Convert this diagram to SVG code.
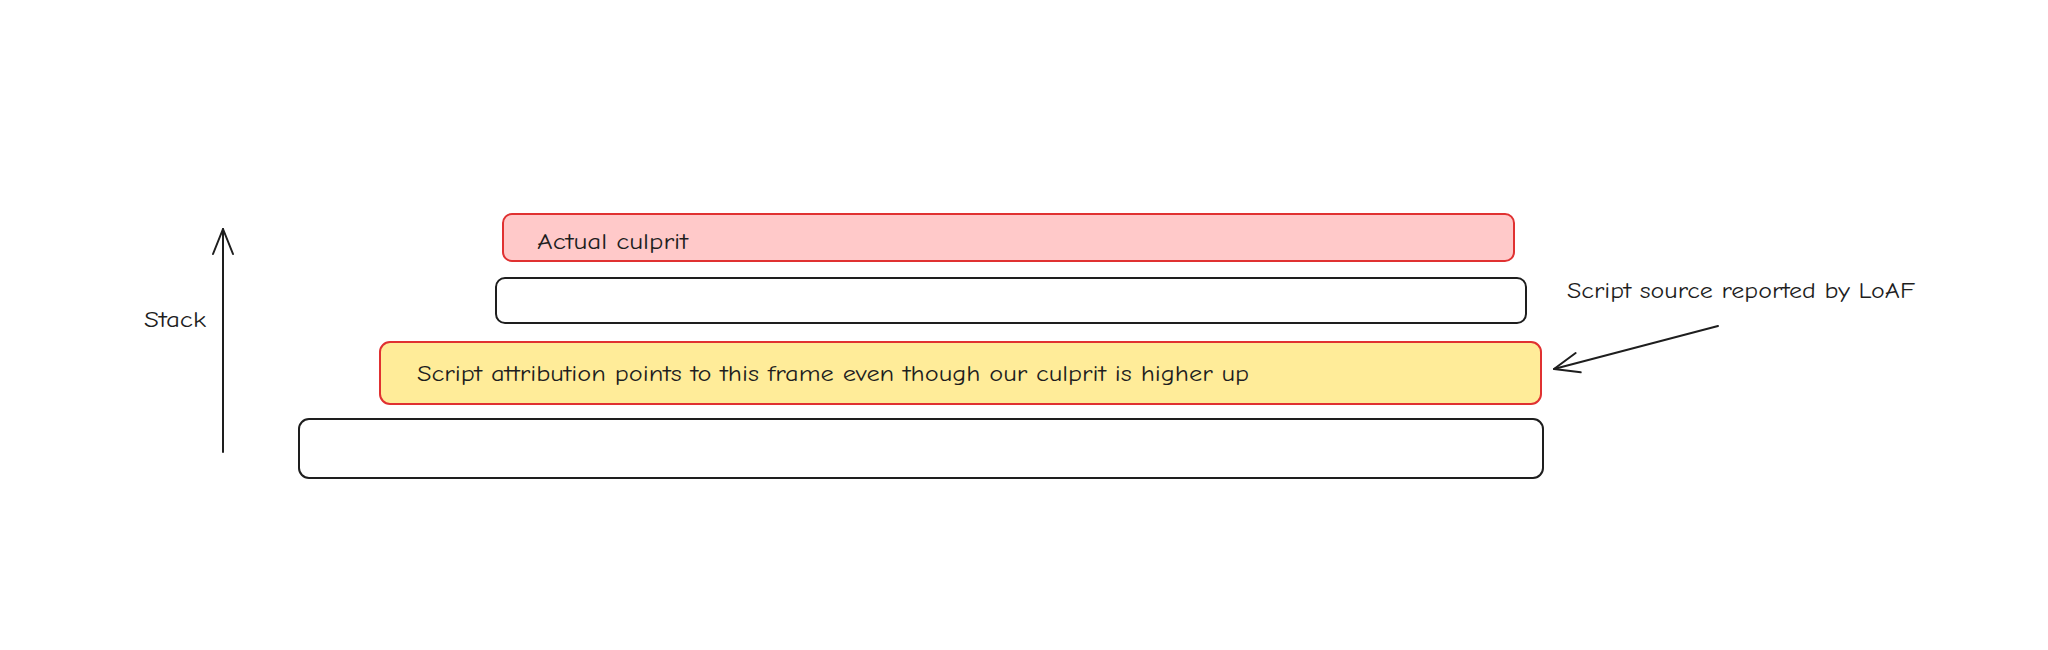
<svg xmlns="http://www.w3.org/2000/svg" width="2048" height="650" viewBox="0 0 2048 650">
<style>
.frame{stroke-width:2;stroke-linejoin:round}
.plain{fill:#ffffff;stroke:#1e1e1e}
.culprit{fill:#ffc9c9;stroke:#e03131}
.attrib{fill:#ffec99;stroke:#e03131}
.lbl{font-family:"Comic Neue","Liberation Sans",sans-serif;font-size:23px;fill:#1e1e1e}
.conn{fill:none;stroke:#1e1e1e;stroke-width:2;stroke-linecap:round}
</style>
<defs>
<marker id="chev" viewBox="-30 -15 34 30" refX="0" refY="0" markerWidth="34" markerHeight="30" markerUnits="userSpaceOnUse" orient="auto" overflow="visible">
<path d="M-25,-10 L0,0 L-25,10" fill="none" stroke="#1e1e1e" stroke-width="2" stroke-linecap="round" stroke-linejoin="round"/>
</marker>
</defs>
<rect width="2048" height="650" fill="#ffffff"/>
<g id="frame-culprit">
<rect class="frame culprit" x="503" y="214" width="1011" height="47" rx="9"/>
<text class="lbl" x="537" y="249" textLength="151" lengthAdjust="spacingAndGlyphs">Actual culprit</text>
</g>
<g id="frame-2">
<rect class="frame plain" x="496" y="278" width="1030" height="45" rx="9"/>
</g>
<g id="frame-attribution">
<rect class="frame attrib" x="380" y="342" width="1161" height="62" rx="10"/>
<text class="lbl" x="417" y="381" textLength="832" lengthAdjust="spacingAndGlyphs">Script attribution points to this frame even though our culprit is higher up</text>
</g>
<g id="frame-bottom">
<rect class="frame plain" x="299" y="419" width="1244" height="59" rx="10"/>
</g>
<g id="label-stack">
<text class="lbl" x="144" y="327" textLength="62" lengthAdjust="spacingAndGlyphs">Stack</text>
</g>
<g id="label-loaf">
<text class="lbl" x="1567" y="298" textLength="348" lengthAdjust="spacingAndGlyphs">Script source reported by LoAF</text>
</g>
<g id="connectors">
<line class="conn" x1="223" y1="452" x2="223" y2="229" marker-end="url(#chev)"/>
<line class="conn" x1="1718" y1="326" x2="1554" y2="369" marker-end="url(#chev)"/>
</g>
</svg>
